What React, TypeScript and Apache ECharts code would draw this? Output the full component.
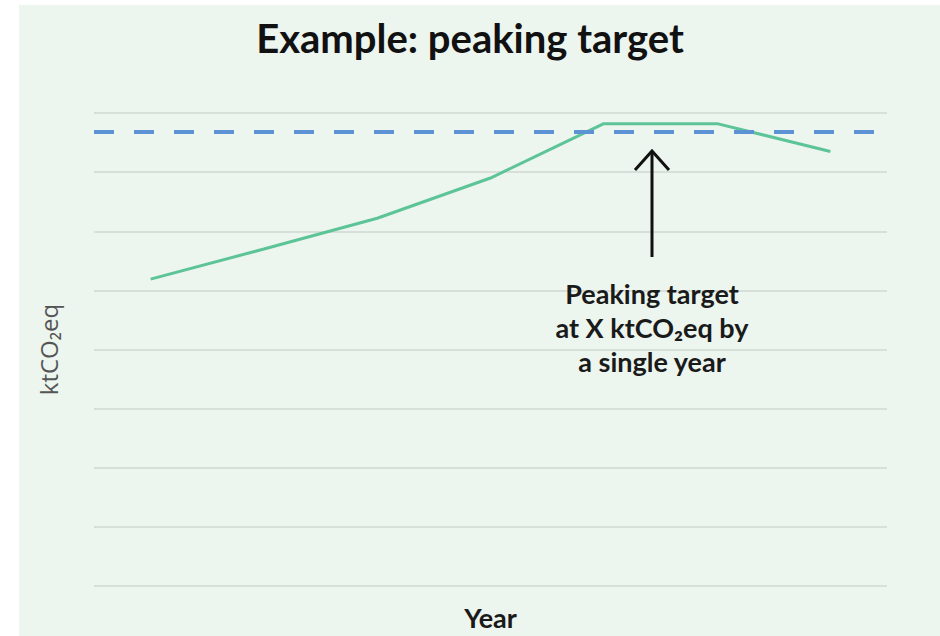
import React, { useEffect, useRef } from "react";
import * as echarts from "echarts";

const years = ["", "", "", "", "", "", ""];
const emissions = [5.19, 5.7, 6.22, 6.9, 7.82, 7.82, 7.35];
const peakTarget = 7.69;
const yMin = 0;
const yMax = 8;
const titleText = "Example: peaking target";
const yName = "ktCO₂eq";
const xName = "Year";
const noteLines = ["Peaking target", "at X ktCO₂eq by", "a single year"];

export default function App() {
  const ref = useRef<HTMLDivElement>(null);
  useEffect(() => {
    if (!ref.current) return;
    const chart = echarts.init(ref.current, null, { renderer: "svg" });
    const font = "Lato";
    chart.setOption({
      animation: false,
      backgroundColor: "#ffffff",
      title: {
        text: titleText,
        left: 465,
        textAlign: "center",
        top: 13,
        textStyle: { fontFamily: font, fontWeight: "bold", fontSize: 40, color: "#111111" },
      },
      grid: { left: 94, right: 53, top: 113, bottom: 49 },
      xAxis: {
        type: "category",
        data: years,
        boundaryGap: true,
        axisLine: { show: false },
        axisTick: { show: false },
        axisLabel: { show: false },
        splitLine: { show: false },
        name: xName,
        nameLocation: "middle",
        nameGap: 18,
        nameTextStyle: { fontFamily: font, fontWeight: "bold", fontSize: 27, color: "#1a1a1a" },
      },
      yAxis: {
        type: "value",
        min: yMin,
        max: yMax,
        interval: 1,
        axisLine: { show: false },
        axisTick: { show: false },
        axisLabel: { show: false },
        splitLine: { lineStyle: { color: "#d8dfd9", width: 2 } },
        name: yName,
        nameLocation: "middle",
        nameRotate: 90,
        nameGap: 34,
        nameTextStyle: { fontFamily: "Open Sans", fontSize: 24, color: "#555555" },
      },
      graphic: [
        {
          type: "rect",
          z: -10,
          shape: { x: 19, y: 5, width: 940, height: 640 },
          style: { fill: "#ecf5ee" },
          silent: true,
        },
        {
          type: "line",
          z: 100,
          shape: { x1: 652, y1: 151, x2: 652, y2: 257 },
          style: { stroke: "#111111", lineWidth: 3 },
        },
        {
          type: "polyline",
          z: 100,
          shape: { points: [[635, 170], [652, 151], [669, 170]] },
          style: { stroke: "#111111", lineWidth: 3, fill: null },
        },
        ...noteLines.map((t, i) => ({
          type: "text",
          z: 100,
          x: 652,
          y: 293 + i * 34,
          style: {
            text: t,
            fontFamily: font,
            fontWeight: "bold",
            fontSize: 27,
            fill: "#1a1a1a",
            textAlign: "center",
            textVerticalAlign: "middle",
          },
        })),
      ],
      series: [
        {
          type: "line",
          data: emissions,
          symbol: "none",
          lineStyle: { color: "#5cc496", width: 3 },
          z: 3,
          markLine: {
            silent: true,
            symbol: "none",
            label: { show: false },
            lineStyle: { color: "#5b93d5", width: 4, type: [20, 20] },
            data: [{ yAxis: peakTarget }],
          },
        },
      ],
    });
    return () => chart.dispose();
  }, []);
  return (
    <div style={{ position: "fixed", left: 0, top: 0, width: 940, height: 636, background: "#fff" }}>
      <div ref={ref} style={{ width: 940, height: 636 }} />
    </div>
  );
}
